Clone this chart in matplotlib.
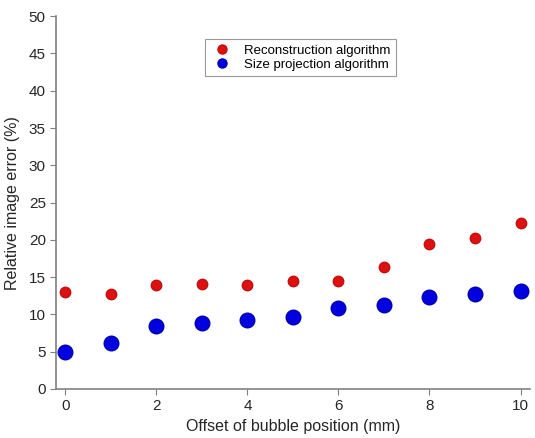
import matplotlib
matplotlib.use("Agg")
import matplotlib.pyplot as plt

# offset of bubble position (mm)
offset = [0, 1, 2, 3, 4, 5, 6, 7, 8, 9, 10]
# relative image error (%)
recon_err = [13.0, 12.7, 13.9, 14.1, 14.0, 14.5, 14.5, 16.4, 19.5, 20.3, 22.3]
size_proj_err = [5.0, 6.1, 8.5, 8.8, 9.2, 9.7, 10.9, 11.2, 12.3, 12.8, 13.2]

plt.rcParams['font.family'] = ['Liberation Sans', 'DejaVu Sans']

fig = plt.figure(figsize=(5.35, 4.38), dpi=100)
ax = fig.add_axes([0.105, 0.112, 0.885, 0.851])

ax.plot(offset, recon_err, 'o', color='#e01010', markersize=7.5,
        markeredgecolor='#c01010', label='Reconstruction algorithm')
ax.plot(offset, size_proj_err, 'o', color='#0000e0', markersize=10.5,
        markeredgecolor='#0000b0', label='Size projection algorithm')

ax.set_xlim(-0.2, 10.2)
ax.set_ylim(0, 50)
ax.set_xticks([0, 2, 4, 6, 8, 10])
ax.set_yticks(range(0, 51, 5))
ax.set_xlabel('Offset of bubble position (mm)', fontsize=11.5, color='#262626')
ax.set_ylabel('Relative image error (%)', fontsize=11.5, color='#262626',
              labelpad=6)

for side in ['top', 'right']:
    ax.spines[side].set_visible(False)
for side in ['left', 'bottom']:
    ax.spines[side].set_color('#808080')
    ax.spines[side].set_linewidth(1.2)
ax.tick_params(labelsize=11, colors='#808080', labelcolor='#262626',
               direction='out', length=4)

leg = ax.legend(loc='upper left', bbox_to_anchor=(0.30, 0.956), fontsize=9.5,
                frameon=True, fancybox=False, handletextpad=0.8,
                borderpad=0.4, labelspacing=0.15, handlelength=1.8)
leg.get_frame().set_edgecolor('#808080')
leg.get_frame().set_linewidth(0.8)
for h in leg.legend_handles:
    h.set_markersize(6.5)

fig.savefig('out.png', dpi=100)
